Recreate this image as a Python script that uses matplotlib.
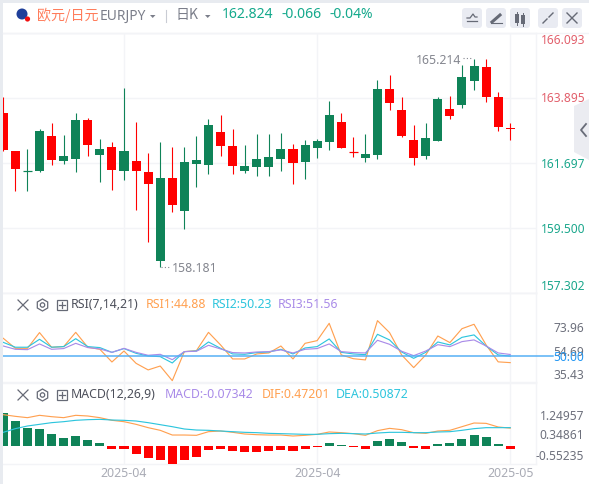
import matplotlib
matplotlib.use("Agg")
import matplotlib.pyplot as plt
from matplotlib.patches import FancyBboxPatch, Rectangle, Circle, RegularPolygon, Polygon
from matplotlib.transforms import ScaledTranslation

plt.rcParams['font.family'] = ['Noto Sans', 'Noto Sans CJK SC', 'DejaVu Sans']

# ---------- data ----------
opens = [163.38,162.09,161.41,161.41,162.60,161.75,161.82,163.14,161.96,162.23,161.41,161.75,161.38,158.37,161.18,160.06,161.65,161.62,162.74,162.26,161.41,161.55,161.55,161.82,162.16,
         161.72,162.19,162.40,163.07,162.06,161.86,161.96,164.19,163.48,162.47,161.92,162.43,163.51,163.65,164.46,164.93,163.92,162.87]
closes = [162.13,161.48,161.45,162.77,161.79,161.92,163.14,162.30,162.16,161.45,162.09,161.41,160.98,161.18,160.27,161.72,161.79,162.97,162.26,161.58,161.58,161.82,161.89,162.16,161.69,
          162.30,162.43,163.31,162.19,162.05,161.99,164.19,163.72,162.60,161.86,162.53,163.85,163.27,164.60,164.97,163.92,162.90,162.824]
highs = [163.92,162.09,162.16,162.84,163.04,162.63,163.38,163.21,162.50,162.40,164.22,163.07,162.02,162.40,162.23,162.23,162.60,163.17,163.31,162.84,162.30,162.67,162.67,162.70,162.33,
         162.47,162.50,163.78,163.38,162.57,162.67,164.49,164.66,163.92,162.97,163.04,163.92,163.95,165.00,165.214,165.20,164.09,163.04]
lows = [162.09,160.74,160.74,161.38,161.62,161.65,161.38,161.92,161.04,160.77,161.11,160.10,159.01,158.181,160.03,159.45,160.87,161.31,161.92,161.31,161.35,161.25,161.25,161.41,160.98,
        161.15,161.86,162.13,162.19,161.89,161.72,161.82,163.48,162.57,161.62,161.82,162.43,163.17,163.55,164.15,163.75,162.77,162.47]

rsi1 = [64.8,56.6,56.6,69.5,57.5,58.0,69.7,57.5,55.8,45.4,54.4,44.3,38.9,42.1,30.1,53.9,54.7,69.7,59.4,47.9,47.9,52.0,52.8,58.5,47.9,
        60.7,62.9,77.1,51.2,48.1,47.1,79.3,69.5,51.2,40.8,51.2,66.7,61.3,72.7,76.3,59.4,45.5,44.88]
rsi2 = [61.5,57.5,57.5,64.0,57.5,58.0,64.5,58.0,57.2,53.3,56.4,52.5,50.3,49.8,44.6,53.9,54.4,61.8,56.6,52.0,51.7,53.1,53.6,55.8,52.0,
        56.9,58.0,64.3,53.3,52.0,51.4,68.1,63.5,53.6,48.4,53.3,61.8,59.4,65.6,67.6,58.5,51.2,50.23]
rsi3 = [58.5,55.8,55.5,60.2,55.8,56.4,60.7,57.2,56.1,53.3,56.6,53.3,50.9,51.7,47.3,53.9,54.2,59.1,56.1,53.1,52.8,53.6,53.9,55.3,52.8,
        55.8,56.4,60.2,53.9,53.1,52.8,63.2,59.9,54.2,50.6,54.4,59.6,58.0,62.1,63.5,58.5,52.8,51.56]

macd_hist = [.871,.66,.475,.449,.317,.211,.264,.158,.079,-.079,-.088,-.211,-.317,-.37,-.475,-.37,-.29,-.106,-.079,-.132,-.158,-.158,-.132,-.106,-.132,
             -.079,-.026,.079,.026,-.026,-.079,.132,.185,.106,-.053,-.079,.053,.079,.185,.29,.238,.053,-.07342]
dif = [.827,.783,.748,.81,.774,.748,.81,.792,.748,.678,.642,.572,.484,.414,.29,.29,.282,.378,.396,.361,.317,.299,.29,.29,.264,
       .282,.308,.37,.352,.326,.282,.405,.466,.431,.352,.334,.396,.414,.51,.607,.598,.502,.47201]
dea = [.361,.458,.528,.572,.616,.642,.678,.695,.704,.686,.678,.66,.616,.563,.51,.449,.422,.414,.396,.378,.361,.352,.334,.326,.317,
       .308,.308,.326,.334,.326,.317,.343,.361,.361,.352,.352,.37,.378,.414,.458,.484,.484,.485]

price_ticks = [166.093,163.895,161.697,159.500,157.302]
rsi_ticks = [73.96,54.69,50.00,35.43]
macd_labels = ['1.24957','0.34861','-0.55235']
date_idx = [10,26,42]
date_labels = ['2025-04','2025-04','2025-05']

# ---------- style / layout ----------
W,H = 589,484
GREEN,RED = '#0f8358','#ff0000'
GRID = '#f3f4f7'
ORANGE,CYAN,PURPLE = '#ffa050','#2dc5dd','#a98be8'
UP_T,DN_T = '#e2606c','#1ba78c'
GRAY = '#6d707c'
L,R = 3.0,536.0
X0,DX = 3.3,12.07
PT = 0.72

fig = plt.figure(figsize=(W/100,H/100),dpi=100,facecolor='white')

def mkax(top,bottom,z=2):
    ax = fig.add_axes([L/W,1-bottom/H,(R-L)/W,(bottom-top)/H],facecolor='none',zorder=z)
    ax.set_xlim((L-X0)/DX,(R-X0)/DX)
    for s in ax.spines.values():
        s.set_color(GRID); s.set_linewidth(1)
    ax.spines['left'].set_visible(False)
    ax.yaxis.tick_right()
    ax.set_axisbelow(True)
    ax.grid(True,color=GRID,lw=1.0)
    ax.set_xticks(date_idx)
    ax.set_xticklabels([])
    ax.tick_params(length=0)
    return ax

idx = list(range(len(opens)))
main = mkax(32.7,292.7)
main.set_ylim(price_ticks[-1],price_ticks[0])
main.set_yticks(price_ticks)
main.set_yticklabels([f'{v:.3f}' for v in price_ticks])
main.tick_params(axis='y',pad=3.4,labelsize=12*PT)
for lab,c,va,dy in zip(main.get_yticklabels(),[UP_T,UP_T,DN_T,DN_T,DN_T],['top','center','center','center','bottom'],[-1,-1,-1.5,-1.5,0]):
    lab.set_color(c); lab.set_va(va)
    lab.set_transform(lab.get_transform()+ScaledTranslation(0,dy/100,fig.dpi_scale_trans))
for i in idx:
    c = GREEN if closes[i]>=opens[i] else RED
    main.vlines(i,lows[i],highs[i],color=c,lw=1.1*PT,zorder=3)
    if abs(closes[i]-opens[i])<0.04:
        main.hlines((opens[i]+closes[i])/2,i-.37,i+.37,color=c,lw=1.2*PT,zorder=3)
    else:
        main.bar(i,closes[i]-opens[i],bottom=opens[i],width=.75,color=c,lw=0,zorder=3)

rsi = mkax(293.3,382.0)
rsi.set_ylim(29.0,101.7)
rsi.set_yticks(rsi_ticks)
rsi.set_yticklabels([f'{v:.2f}' for v in rsi_ticks])
rsi.tick_params(axis='y',pad=48*PT,labelsize=12*PT,labelcolor=GRAY)
for lab,c in zip(rsi.get_yticklabels(),[GRAY,GRAY,'#2196f3',GRAY]):
    lab.set_ha('right'); lab.set_color(c)
rsi.grid(False,axis='y')
rsi.plot(idx,rsi1,color=ORANGE,lw=1.15*PT,zorder=3)
rsi.plot(idx,rsi2,color=CYAN,lw=1.15*PT,zorder=3)
rsi.plot(idx,rsi3,color=PURPLE,lw=1.15*PT,zorder=3)
rsi.axhline(50,xmin=0,xmax=(553-L)/(R-L),color='#52aef5',lw=1.5*PT,clip_on=False,zorder=4)

mac = mkax(382.7,464.0)
mac.set_ylim(-.475,1.671)
mac.set_yticks([])
mac.set_xticklabels(date_labels,fontsize=12.3*PT,color='#a9abb5')
mac.tick_params(axis='x',pad=2)
mac.bar(idx,macd_hist,width=.75,color=[GREEN if v>=0 else RED for v in macd_hist],lw=0,zorder=3)
mac.plot(idx,dif,color=ORANGE,lw=1.15*PT,zorder=4)
mac.plot(idx,dea,color=CYAN,lw=1.15*PT,zorder=4)

# ---------- overlay in pixel coordinates ----------
ov = fig.add_axes([0,0,1,1],facecolor='none',zorder=6)
ov.set_xlim(0,W); ov.set_ylim(H,0); ov.axis('off')

def t(x,y,s,c,px=12,ha='left',va='center',weight='normal',family=None):
    ov.text(x,y,s,color=c,fontsize=px*PT,ha=ha,va=va,fontweight=weight,family=family)

ov.add_patch(Rectangle((0,0),W,2.5,fc='#e8ebf0',ec='none'))
ov.add_patch(Rectangle((0,0),2.8,H,fc='#e8ebf0',ec='none'))
ov.plot([3,589],[32.5,32.5],color=GRID,lw=1)

# header
ov.add_patch(Circle((22,14),5.5,fc='#1f3f9a',ec='none'))
ov.add_patch(Circle((27.5,19),2.6,fc='#f01010',ec='none'))
t(37,15,'欧元/日元','#ff7d5c',14,family=['Noto Sans CJK SC','DejaVu Sans'])
t(99.5,16,'EURJPY','#7b7e8a',13.8)
ov.add_patch(Polygon([[150,15],[155.5,15],[152.7,18]],fc='#7b7e8a',ec='none'))
ov.plot([166,166],[10,22],color='#c9ccd4',lw=.8)
t(176,15,'日K','#7b7e8a',14,family=['Noto Sans CJK SC','DejaVu Sans'])
ov.add_patch(Polygon([[205,15],[210.5,15],[207.7,18]],fc='#7b7e8a',ec='none'))
t(221.5,15,'162.824','#14a98c',14,weight='bold')
t(281,15,'-0.066','#14a98c',14,weight='bold')
t(330,15,'-0.04%','#14a98c',14,weight='bold')

# buttons
for x in [462,486,510,538,562]:
    ov.add_patch(FancyBboxPatch((x+2,10),16,16,boxstyle='round,pad=2,rounding_size=3',fc='#e9ebf2',ec='none'))
ic = '#666a76'
ov.plot([467,470,473,475,477],[18,18,14,17,17],color=ic,lw=.9); ov.plot([467,477],[21,21],color=ic,lw=.9)
ov.plot([492,500],[22,15],color=ic,lw=2.2); ov.plot([491,502],[23,23],color=ic,lw=.8)
ov.add_patch(Rectangle((515,14),4,9,fc=ic,ec='none')); ov.add_patch(Rectangle((521,15),4,9,fc=ic,ec='none'))
ov.plot([517,517],[12,25],color=ic,lw=.7); ov.plot([523,523],[13,26],color=ic,lw=.7)
ov.plot([543,547],[23,19],color=ic,lw=1); ov.plot([549,553],[17,13],color=ic,lw=1)
ov.plot([567,577],[13,23],color=ic,lw=1); ov.plot([567,577],[23,13],color=ic,lw=1)

# side tab
ov.add_patch(Polygon([[589,99],[574,106],[574,152],[589,160]],fc='#ebecf1',ec='none'))
ov.plot([586,581,586],[124,130,136],color='#686c78',lw=1.3)

# high / low markers
t(461,60,'165.214','#84868f',12.3,ha='right')
ov.plot([463,473],[58,58],color='#84868f',lw=.8,ls=(0,(1,2)))
t(172,269,'158.181','#84868f',12.3)
ov.plot([161,171],[267,267],color='#84868f',lw=.8,ls=(0,(1,2)))

# panel headers
def tools(y):
    ov.plot([18,28],[y-5,y+5],color=ic,lw=.9); ov.plot([18,28],[y+5,y-5],color=ic,lw=.9)
    ov.add_patch(RegularPolygon((42.5,y),6,radius=6,fc='none',ec=ic,lw=.9))
    ov.add_patch(Circle((42.5,y),2.2,fc='none',ec=ic,lw=.9))
    ov.add_patch(Rectangle((57,y-5),10,10,fc='none',ec=ic,lw=.9))
    ov.plot([59,65],[y,y],color=ic,lw=.9); ov.plot([62,62],[y-3,y+3],color=ic,lw=.9)

tools(305)
t(71,305,'RSI(7,14,21)','#4c4f5a',12.3)
t(146,305,'RSI1:44.88',ORANGE,12.3)
t(212,305,'RSI2:50.23',CYAN,12.3)
t(278,305,'RSI3:51.56',PURPLE,12.3)

tools(395)
t(71,395,'MACD(12,26,9)','#4c4f5a',12.3)
t(165,395,'MACD:-0.07342',PURPLE,12.3)
t(262,395,'DIF:0.47201',ORANGE,12.3)
t(336,395,'DEA:0.50872',CYAN,12.3)

for y,s in zip([416.7,435.5,456],macd_labels):
    t(584,y,s,GRAY,12,ha='right')

fig.savefig('out.png',dpi=100)
